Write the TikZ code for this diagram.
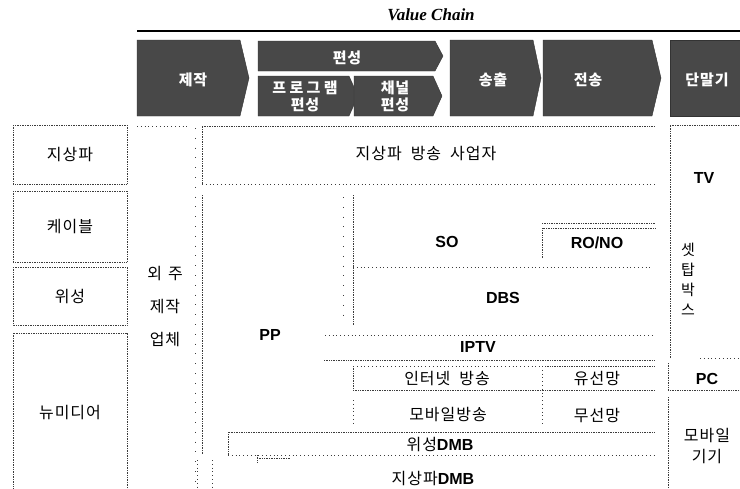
\documentclass[tikz,border=0pt]{standalone}
\usepackage{fontspec}
\setmainfont{Liberation Sans}
\newfontfamily\kr{Noto Sans CJK KR}[LetterSpace=6]
\newfontfamily\krw{Noto Sans CJK KR}[LetterSpace=22]
\newfontfamily\lat{Liberation Sans}
\newfontfamily\ttl{Liberation Serif}
\newcommand\wsp{\hspace{9pt}}
\definecolor{hdr}{RGB}{72,72,72}
\definecolor{ln}{RGB}{60,60,60}
\tikzset{
  dense/.style={draw=ln, line width=0.6pt, dash pattern=on 0.8pt off 0.9pt},
  sparse/.style={draw=ln, line width=0.6pt, dash pattern=on 0.8pt off 3pt},
  vsparse/.style={draw=ln, line width=0.7pt, dash pattern=on 0.8pt off 9pt},
  hdrbox/.style={fill=hdr, draw=black!80, line width=0.4pt},
  hdrtxt/.style={text=white, font=\fontsize{15}{16}\selectfont\kr\bfseries, align=center, inner sep=0pt},
  krtxt/.style={font=\fontsize{16}{18}\selectfont\kr, inner sep=0pt, align=center},
  lattxt/.style={font=\fontsize{16}{18}\selectfont\lat\bfseries, inner sep=0pt},
}
\begin{document}
\begin{tikzpicture}[x=1pt,y=-1pt]
\useasboundingbox (0,0) rectangle (740,488);
% title
\node[font=\fontsize{17}{19}\selectfont\ttl\bfseries\itshape, inner sep=0pt] (title) at (431,15) {Value Chain};
\draw[line width=1.8pt] (137,31) -- (740,31);
% header chevrons
\fill[hdrbox] (137,40) -- (240,40) -- (249,78) -- (240,116) -- (137,116) -- cycle;
\fill[hdrbox] (258,41) -- (435,41) -- (443,56) -- (435,71) -- (258,71) -- cycle;
\fill[hdrbox] (258,76) -- (349,76) -- (358,96) -- (349,116) -- (258,116) -- cycle;
\fill[hdrbox] (354,76) -- (433,76) -- (442,96) -- (433,116) -- (354,116) -- cycle;
\fill[hdrbox] (450,40) -- (533,40) -- (541,78) -- (533,116) -- (450,116) -- cycle;
\fill[hdrbox] (543,40) -- (652,40) -- (661,78) -- (652,116) -- (543,116) -- cycle;
\fill[hdrbox] (670,40) -- (741,40) -- (741,116) -- (670,116) -- cycle;
\node[hdrtxt] (h1) at (193,80) {제작};
\node[hdrtxt] (h2) at (347,58) {편성};
\node[hdrtxt] (h3) at (305,96) {{\krw\bfseries 프로그램}\\[1pt]편성};
\node[hdrtxt] (h4) at (395,96) {채널\\[1pt]편성};
\node[hdrtxt] (h5) at (493,80) {송출};
\node[hdrtxt] (h6) at (588,80) {전송};
\node[hdrtxt] (h7) at (707,80) {단말기};
% left column
\draw[dense] (13,125) rectangle (127,184);
\draw[dense] (13,191) rectangle (127,262);
\draw[dense] (13,267) rectangle (127,325);
\draw[dense] (13,490) -- (13,333) -- (127,333) -- (127,490);
\node[krtxt] (l1) at (70,155) {지상파};
\node[krtxt] (l2) at (70,227) {케이블};
\node[krtxt] (l3) at (70,297) {위성};
\node[krtxt] (l4) at (70,413) {뉴미디어};
% column 2
\draw[sparse] (137,126) -- (187,126);
\draw[vsparse] (195,128) -- (195,488);
\node[krtxt] (c1) at (165,274) {외\hspace{6pt}주};
\node[krtxt] (c2) at (165,307) {제작};
\node[krtxt] (c3) at (165,340) {업체};
% terrestrial broadcaster
\draw[dense] (202,184) -- (202,126) -- (655,126);
\draw[sparse] (202,184) -- (655,184);
\node[krtxt] (t1) at (426,154) {지상파\wsp 방송\wsp 사업자};
% PP area
\draw[dense] (202,195) -- (202,455);
\node[lattxt] (pp) at (270,335) {PP};
% SO / DBS
\draw[dense] (353,195) -- (353,325);
\draw[vsparse] (343,197) -- (343,320);
\draw[sparse] (353,267) -- (650,267);
\draw[dense] (542,258) -- (542,228) -- (655,228);
\draw[dense] (542,223) -- (655,223);
\node[lattxt] (so) at (447,242) {SO};
\node[lattxt] (rono) at (597,243) {RO/NO};
\node[lattxt] (dbs) at (503,298) {DBS};
% IPTV
\draw[sparse] (325,335) -- (655,335);
\node[lattxt] (iptv) at (478,347) {IPTV};
\draw[dense] (324,360) -- (655,360);
% internet / mobile
\draw[sparse] (353,366) -- (540,366);
\draw[dense] (545,366) -- (655,366);
\draw[dense] (353,366) -- (353,390);
\draw[dense] (353,390) -- (655,390);
\draw[sparse] (542,366) -- (542,425);
\draw[sparse] (353,400) -- (353,425);
\node[krtxt] (ib) at (447,379) {인터넷\wsp 방송};
\node[krtxt] (wl) at (597,379) {유선망};
\node[krtxt] (mb) at (448,415) {모바일방송};
\node[krtxt] (wls) at (597,415) {무선망};
% DMB
\draw[dense] (228,455) -- (228,432) -- (655,432);
\draw[sparse] (228,455) -- (655,455);
\draw[dense] (257,458) -- (290,458);
\draw[dense] (257,455) -- (257,463);
\node[inner sep=0pt] (sdmb) at (440,445) {{\fontsize{16}{18}\selectfont\kr 위성}{\fontsize{16}{18}\selectfont\lat\bfseries DMB}};
\draw[sparse] (197,460) -- (197,488);
\draw[sparse] (212,460) -- (212,488);
\node[inner sep=0pt] (tdmb) at (433,479) {{\fontsize{16}{18}\selectfont\kr 지상파}{\fontsize{16}{18}\selectfont\lat\bfseries DMB}};
% devices
\draw[dense] (670,358) -- (670,125) -- (741,125);
\draw[sparse] (700,358) -- (741,358);
\node[lattxt] (tv) at (704,178) {TV};
\node[krtxt, font=\fontsize{15}{16}\selectfont\kr] (stb) at (688,279) {셋\\[4pt]탑\\[4pt]박\\[4pt]스};
\draw[dense] (668,363) -- (668,390) -- (741,390);
\node[lattxt] (pc) at (707,379) {PC};
\draw[dense] (668,397) -- (668,488);
\node[krtxt] (mob) at (707,446) {모바일\\[3pt]기기};
\end{tikzpicture}
\end{document}
